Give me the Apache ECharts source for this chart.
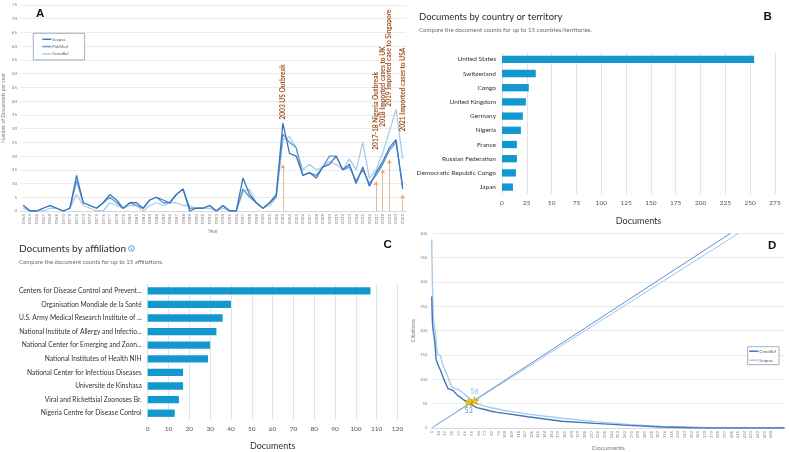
<!DOCTYPE html>
<html><head><meta charset="utf-8">
<script src="https://cdn.jsdelivr.net/npm/echarts@6/dist/echarts.min.js"></script>
<style>html,body{margin:0;padding:0;background:#fff}#c{width:789px;height:452px}</style>
</head><body><div id="c"></div>
<script>
// ---------- Panel A: documents per year ----------
const years = ['1964','1965','1966','1967','1968','1969','1970','1971','1972','1973','1974','1975','1976','1977','1978','1979','1980','1981','1982','1983','1984','1985','1986','1987','1988','1989','1990','1991','1992','1993','1994','1995','1996','1997','1998','1999','2000','2001','2002','2003','2004','2005','2006','2007','2008','2009','2010','2011','2012','2013','2014','2015','2016','2017','2018','2019','2020','2021'];
const scopusA   = [2,0,0,1,2,1,0,1, 13,3,2,1,3,6,4,1,3,3, 1,4,5,4,3,6,8,0,1,1, 2,0,2,0,0,12,6,3,1,3, 6,32,21,20,13,14,12,16,17,20, 15,17,10,16,9,14,18,23,26,8];
const pubmedA   = [2,0,0,1,2,1,0,1, 11,3,2,1,3,5,3,1,3,2, 1,4,5,3,3,6,8,1,1,1, 2,0,2,0,0,8,5,3,1,3, 5,28,25,23,13,14,13,16,20,20, 15,16,11,15,10,13,17,22,25,9];
const crossrefA = [1,0,0,0,1,1,0,1, 6,2,1,0,0,3,2,1,2,2, 0,2,3,2,3,3,2,2,1,1, 1,0,1,0,0,7,8,3,1,2, 5,26,27,23,15,17,15,16,18,17, 15,19,15,25,12,15,21,29,37,19];
const annYears  = ['2003','2017','2018','2019','2021'];
const annTexts  = ['2003 US Outbreak','2017-18 Nigeria Outbreak','2018 Imported cases to UK','2019 Imported case to Singapore','2021 Imported cases to USA'];
const annArrowTo = [16.8, 10.7, 15, 18.7, 5.9];
const annTextAt  = [33.3, 22.3, 30.7, 38, 28.9];

// ---------- Panel B: documents by country ----------
const countries = ['United States','Switzerland','Congo','United Kingdom','Germany','Nigeria','France','Russian Federation','Democratic Republic Congo','Japan'];
const countryDocs = [254,34,27,24,21,19,15,15,14,11];

// ---------- Panel C: documents by affiliation ----------
const affiliations = ['Centers for Disease Control and Prevent...','Organisation Mondiale de la Santé','U.S. Army Medical Research Institute of ...','National Institute of Allergy and Infectio...','National Center for Emerging and Zoon...','National Institutes of Health NIH','National Center for Infectious Diseases','Universite de Kinshasa','Viral and Rickettsial Zoonoses Br.','Nigeria Centre for Disease Control'];
const affiliationDocs = [107,40,36,33,30,29,17,17,15,13];

// ---------- Panel D: citations per ranked document ----------
const crossRefD = [[1,270],[2,215],[3,200],[4,190],[5,180],[6,160],[7,140],[9,132],[11,125],[13,118],[15,110],[17,102],[19,98],[21,88],[23,81],[27,79],[30,77],[33,72],[36,67],[40,63],[44,58],[48,55],[52,52],[55,48],[58,45],[62,42],[70,39],[80,35],[90,32],[100,30],[131,23],[177,14],[222,9.5],[267,5.4],[312,2],[340,1],[357,0],[478,0]];
const scopusD = [[1,387],[2,290],[3,235],[4,215],[5,205],[6,195],[7,180],[8,160],[9,152],[13,148],[15,135],[18,122],[21,112],[24,100],[26,92],[28,85],[31,81],[36,80],[40,76],[44,71],[48,66],[52,61],[56,57],[60,53],[64,49],[70,46],[80,42],[90,39],[100,36],[131,28.6],[177,20],[222,13],[267,7.5],[312,3.4],[357,1.4],[384,0],[478,0]];
const crossRefDiag = [[1,0],[405,400]];
const scopusDiag = [[1,0],[416,400]];
const hIndex = [53, 56];
const hIndexDoc = [51, 59];

const cDark = '#3f76bb', cMid = '#5b9bd5', cLight = '#a9cbea';
const bar = '#1297cf';
const FF = 'Lato';
const starPath = 'path://M50,0 L61,35 L98,35 L68,57 L79,91 L50,70 L21,91 L32,57 L2,35 L39,35 Z';

const chart = echarts.init(document.getElementById('c'), null, {renderer:'canvas'});
const option = {
  animation: false,
  textStyle: {fontFamily: FF},
  grid: [
    {left: 20, top: 5, width: 386, height: 206},
    {left: 502, top: 52.2, width: 273, height: 142},
    {left: 147.7, top: 284, width: 249.8, height: 141.5},
    {left: 431.7, top: 233.3, width: 353.5, height: 195.7}
  ],
  xAxis: [
    {type:'category', gridIndex:0, data: years, boundaryGap:true,
     axisLine:{lineStyle:{color:'#d9d9d9'}}, axisTick:{show:false},
     axisLabel:{rotate:90, interval:0, fontSize:4.5, color:'#7f7f7f', margin:3},
     name:'Year', nameLocation:'middle', nameGap:18, nameTextStyle:{fontSize:5, color:'#7f7f7f'}},
    {type:'value', gridIndex:1, min:0, max:275, interval:25,
     axisLine:{show:false}, axisTick:{show:false},
     splitLine:{lineStyle:{color:'#e4e4e4', width:1}},
     axisLabel:{fontSize:6.5, color:'#555', margin:5},
     name:'Documents', nameLocation:'middle', nameGap:22, nameTextStyle:{fontSize:9, color:'#333'}},
    {type:'value', gridIndex:2, min:0, max:120, interval:10,
     axisLine:{show:false}, axisTick:{show:false},
     splitLine:{lineStyle:{color:'#e4e4e4', width:1}},
     axisLabel:{fontSize:6.5, color:'#555', margin:5},
     name:'Documents', nameLocation:'middle', nameGap:22, nameTextStyle:{fontSize:9, color:'#333'}},
    {type:'value', gridIndex:3, min:1, max:479, interval:9,
     axisLine:{lineStyle:{color:'#d9d9d9'}}, axisTick:{show:false}, splitLine:{show:false},
     axisLabel:{rotate:90, fontSize:4, color:'#7f7f7f', margin:3, showMaxLabel:false,
       formatter: v => (v > 460 ? '' : String(v))},
     name:'Documents', nameLocation:'middle', nameGap:16, nameTextStyle:{fontSize:6.5, color:'#7f7f7f'}}
  ],
  yAxis: [
    {type:'value', gridIndex:0, min:0, max:75, interval:5,
     axisLine:{show:false}, axisTick:{show:false},
     splitLine:{lineStyle:{color:'#ebebeb'}},
     axisLabel:{fontSize:4.5, color:'#7f7f7f', margin:3},
     name:'Number of Documents per year', nameLocation:'middle', nameGap:14, nameRotate:90,
     nameTextStyle:{fontSize:5, color:'#7f7f7f'}},
    {type:'category', gridIndex:1, data: countries, inverse:true,
     axisLine:{show:false}, axisTick:{show:false},
     axisLabel:{fontSize:6.5, color:'#333', margin:6}},
    {type:'category', gridIndex:2, data: affiliations, inverse:true,
     axisLine:{show:false}, axisTick:{show:false},
     axisLabel:{fontSize:6.7, color:'#333', margin:6}},
    {type:'value', gridIndex:3, min:0, max:400, interval:50,
     axisLine:{show:false}, axisTick:{show:false},
     splitLine:{lineStyle:{color:'#ebebeb'}},
     axisLabel:{fontSize:4, color:'#7f7f7f', margin:4.5},
     name:'Citations', nameLocation:'middle', nameGap:16, nameRotate:90,
     nameTextStyle:{fontSize:6, color:'#7f7f7f'}}
  ],
  legend: [
    {left:33.3, top:33.3, orient:'vertical', data:[
        {name:'Scopus', icon:'rect', itemStyle:{color:cDark}},
        {name:'PubMed', icon:'rect', itemStyle:{color:cMid}},
        {name:'CrossRef', icon:'rect', itemStyle:{color:cLight}}],
     itemWidth:9, itemHeight:1.5, itemGap:3.3, padding:[4,16,4,9],
     borderColor:'#8a9bb5', borderWidth:0.8, backgroundColor:'#fff',
     textStyle:{fontSize:4.2, color:'#595959', padding:[0,0,0,-4]}},
    {left:747.7, top:346.7, orient:'vertical', data:[
        {name:'CrossRef (D)', icon:'rect', itemStyle:{color:cDark}},
        {name:'Scopus (D)', icon:'rect', itemStyle:{color:cLight}}],
     formatter: n => n.replace(' (D)',''),
     itemWidth:9, itemHeight:1.5, itemGap:5, padding:[2.5,3,2.5,1.6],
     borderColor:'#8a9bb5', borderWidth:0.8, backgroundColor:'#fff',
     textStyle:{fontSize:4.3, color:'#595959', padding:[0,0,0,-4]}}
  ],
  series: [
    {name:'Scopus', type:'line', xAxisIndex:0, yAxisIndex:0, data:scopusA, symbol:'none',
     lineStyle:{color:cDark, width:1.3}, itemStyle:{color:cDark}, z:4,
     markLine:{silent:true, symbol:['none','arrow'], symbolSize:[4,4],
       lineStyle:{color:'#e3a47a', width:0.8, type:'solid'}, label:{show:false},
       data: annYears.map((y,i) => [{coord:[y,0]},{coord:[y,annArrowTo[i]]}])},
     markPoint:{silent:true, symbol:'circle', symbolSize:0.1, itemStyle:{color:'rgba(0,0,0,0)'},
       label:{show:true, rotate:90, align:'left', verticalAlign:'middle', position:'inside',
         fontSize:6.6, fontWeight:'bold', color:'#a0501e', formatter: p => p.name},
       data: annYears.map((y,i) => ({name: annTexts[i], coord:[y, annTextAt[i]]}))}},
    {name:'PubMed', type:'line', xAxisIndex:0, yAxisIndex:0, data:pubmedA, symbol:'none',
     lineStyle:{color:cMid, width:1.3}, itemStyle:{color:cMid}, z:3},
    {name:'CrossRef', type:'line', xAxisIndex:0, yAxisIndex:0, data:crossrefA, symbol:'none',
     lineStyle:{color:cLight, width:1.3}, itemStyle:{color:cLight}, z:2},

    {name:'Country documents', type:'bar', xAxisIndex:1, yAxisIndex:1, data:countryDocs,
     barWidth:7.3, itemStyle:{color:bar}},
    {name:'Affiliation documents', type:'bar', xAxisIndex:2, yAxisIndex:2, data:affiliationDocs,
     barWidth:7.3, itemStyle:{color:bar}},

    {name:'CrossRef diagonal', type:'line', xAxisIndex:3, yAxisIndex:3, data:crossRefDiag, symbol:'none',
     lineStyle:{color:'#5a8fd0', width:1}, z:2},
    {name:'Scopus diagonal', type:'line', xAxisIndex:3, yAxisIndex:3, data:scopusDiag, symbol:'none',
     lineStyle:{color:'#9fc3e8', width:1}, z:2},
    {name:'Scopus (D)', type:'line', xAxisIndex:3, yAxisIndex:3, data:scopusD, symbol:'none',
     lineStyle:{color:cLight, width:1.4}, itemStyle:{color:cLight}, z:3,
     markPoint:{silent:true, symbol:starPath, symbolSize:9, symbolKeepAspect:true,
       itemStyle:{color:'#f5c400', borderColor:'#b89000', borderWidth:0.5},
       label:{show:true, position:'top', distance:1, fontSize:7, color:'#8db4e0', formatter:p=>p.name},
       data:[{name:String(hIndex[1]), coord:[hIndexDoc[1], hIndex[1]]}]}},
    {name:'CrossRef (D)', type:'line', xAxisIndex:3, yAxisIndex:3, data:crossRefD, symbol:'none',
     lineStyle:{color:cDark, width:1.4}, itemStyle:{color:cDark}, z:4,
     markPoint:{silent:true, symbol:starPath, symbolSize:9, symbolKeepAspect:true,
       itemStyle:{color:'#f5c400', borderColor:'#b89000', borderWidth:0.5},
       label:{show:true, position:'bottom', distance:1, fontSize:7, color:'#5a8fd0', formatter:p=>p.name},
       data:[{name:String(hIndex[0]), coord:[hIndexDoc[0], hIndex[0]]}]}}
  ],
  graphic: [
    {type:'text', x:36, y:14, style:{text:'A', fontSize:11.5, fontWeight:'bold', fontFamily:'Liberation Sans', fill:'#111', verticalAlign:'middle'}},
    {type:'text', x:763.5, y:16.7, style:{text:'B', fontSize:11.5, fontWeight:'bold', fontFamily:'Liberation Sans', fill:'#111', verticalAlign:'middle'}},
    {type:'text', x:383.5, y:245, style:{text:'C', fontSize:11.5, fontWeight:'bold', fontFamily:'Liberation Sans', fill:'#111', verticalAlign:'middle'}},
    {type:'text', x:768, y:245.5, style:{text:'D', fontSize:11.5, fontWeight:'bold', fontFamily:'Liberation Sans', fill:'#111', verticalAlign:'middle'}},
    {type:'text', x:419, y:16.7, style:{text:'Documents by country or territory', fontSize:9.5, fontFamily:FF, fill:'#2b2b2b', verticalAlign:'middle'}},
    {type:'text', x:419, y:30, style:{text:'Compare the document counts for up to 15 countries/territories.', fontSize:6.1, fontFamily:FF, fill:'#6b6b6b', verticalAlign:'middle'}},
    {type:'text', x:19, y:248.3, style:{text:'Documents by affiliation', fontSize:10, fontFamily:FF, fill:'#2b2b2b', verticalAlign:'middle'}},
    {type:'text', x:19, y:262.3, style:{text:'Compare the document counts for up to 15 affiliations.', fontSize:6, fontFamily:FF, fill:'#6b6b6b', verticalAlign:'middle'}},
    {type:'circle', shape:{cx:131.5, cy:248.5, r:2.8}, style:{fill:'#fff', stroke:'#1a8fd1', lineWidth:0.8}},
    {type:'text', x:131.5, y:248.7, style:{text:'i', fontSize:4.5, fontWeight:'bold', fontFamily:FF, fill:'#1a8fd1', align:'center', verticalAlign:'middle'}}
  ]
};
chart.setOption(option);
</script></body></html>
